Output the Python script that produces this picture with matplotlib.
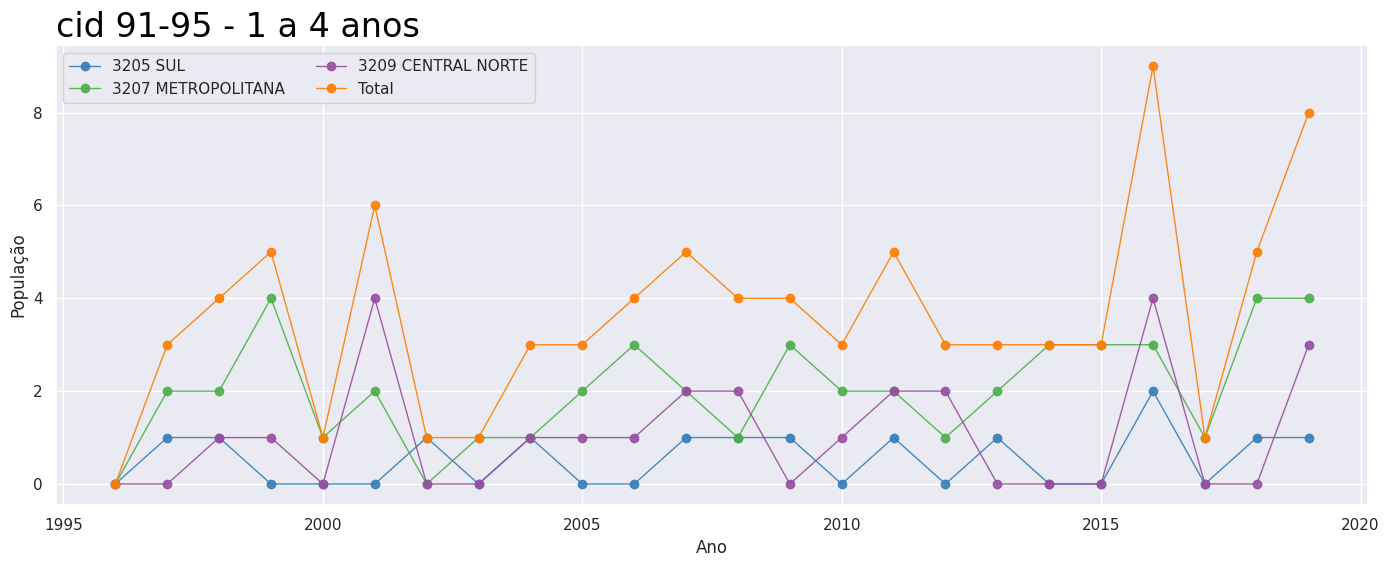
import matplotlib
matplotlib.use("Agg")
import matplotlib.pyplot as plt
import seaborn as sns

sns.set_theme(style="darkgrid")

anos = list(range(1996, 2020))
sul = [0,1,1,0,0,0,1,0,1,0,0,1,1,1,0,1,0,1,0,0,2,0,1,1]
metro = [0,2,2,4,1,2,0,1,1,2,3,2,1,3,2,2,1,2,3,3,3,1,4,4]
central = [0,0,1,1,0,4,0,0,1,1,1,2,2,0,1,2,2,0,0,0,4,0,0,3]
total = [0,3,4,5,1,6,1,1,3,3,4,5,4,4,3,5,3,3,3,3,9,1,5,8]

series = [("3205 SUL", sul, "#377eb8"),
          ("3207 METROPOLITANA", metro, "#4daf4a"),
          ("3209 CENTRAL NORTE", central, "#984ea3"),
          ("Total", total, "#ff7f00")]

fig, ax = plt.subplots(figsize=(13.92, 5.66), dpi=100)
for name, vals, c in series:
    ax.plot(anos, vals, marker="o", color=c, linewidth=1, markersize=6,
            alpha=0.9, label=name)

ax.set_title("cid 91-95 - 1 a 4 anos", loc="left", fontsize=24, color="black")
ax.set_xlabel("Ano")
ax.set_ylabel("População")
ax.legend(ncol=2, loc="upper left")
fig.subplots_adjust(left=0.04, right=0.983, top=0.92, bottom=0.108)
fig.savefig("out.png")
